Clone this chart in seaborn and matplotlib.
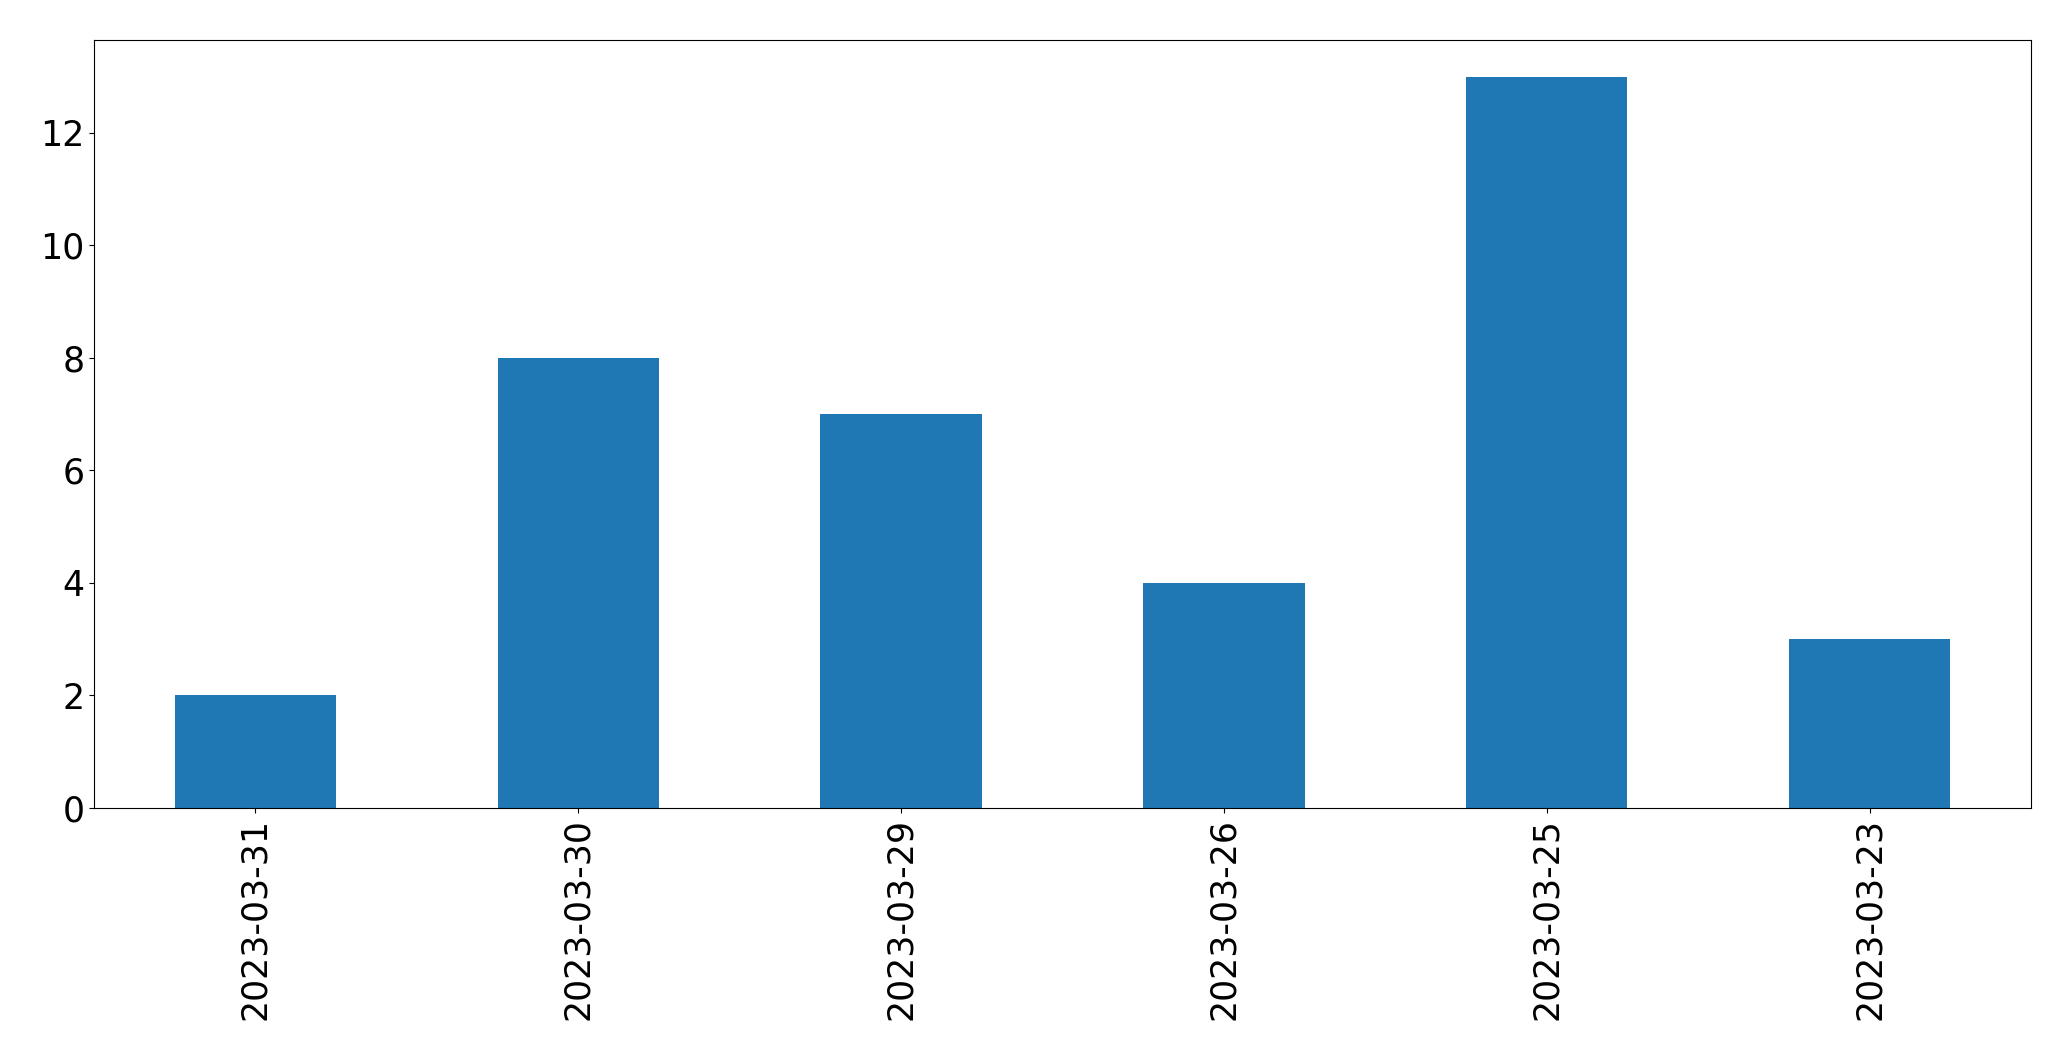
import pandas as pd
import matplotlib
matplotlib.use('Agg')
import matplotlib.pyplot as plt
import seaborn as sns

# dados
datas = ['2023-03-31', '2023-03-30', '2023-03-29', '2023-03-26', '2023-03-25', '2023-03-23']
contagens = [2, 8, 7, 4, 13, 3]

df = pd.DataFrame({'Data': datas, 'Quantidade': contagens})

fig, ax = plt.subplots(figsize=(20.71, 10.61), dpi=100)
fig.subplots_adjust(left=94 / 2071, right=2031 / 2071, top=1 - 40 / 1061, bottom=1 - 808 / 1061)

sns.barplot(data=df, x='Data', y='Quantidade', order=datas, color='#1f77b4',
            saturation=1, width=0.5, ax=ax)

ax.set_xlabel('')
ax.set_ylabel('')
ax.set_ylim(0, 13.65)
ax.tick_params(axis='both', labelsize=25)
ax.tick_params(axis='x', labelrotation=90)

plt.savefig('out.png', dpi=100)
